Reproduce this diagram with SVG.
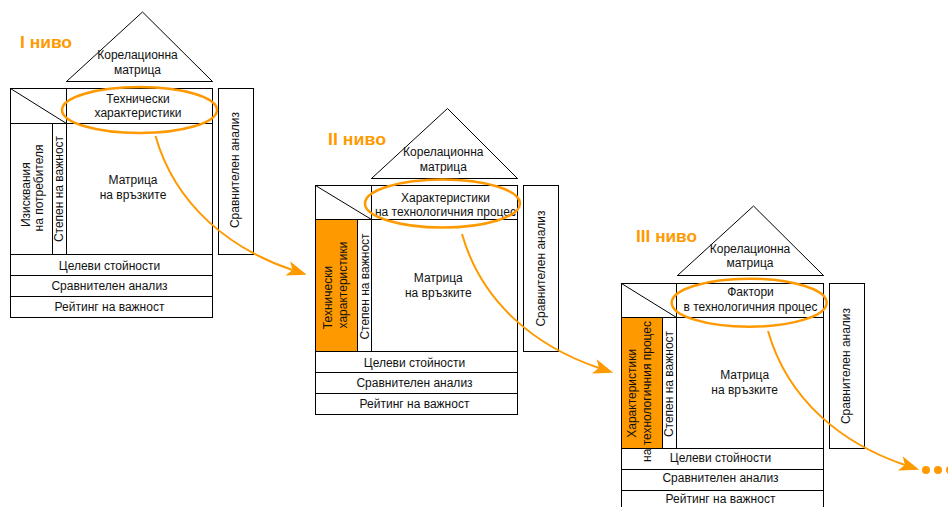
<svg xmlns="http://www.w3.org/2000/svg" width="948" height="507" viewBox="0 0 948 507">
  <style>
    .box { fill: #fff; stroke: #000; stroke-width: 1; }
    .ln { fill: none; stroke: #000; stroke-width: 1; }
    .fill { fill: #FF9900; stroke: #000; stroke-width: 1; }
    .t { font-family: "Liberation Sans", Arial, sans-serif; font-size: 12px; fill: #111; text-anchor: middle; }
    .lvl { font-family: "Liberation Sans", Arial, sans-serif; font-size: 17px; font-weight: bold; fill: #FF9900; }
    .hl { fill: none; stroke: #FF9900; stroke-width: 2.5; }
    .conn { fill: none; stroke: #FF9900; stroke-width: 2; marker-end: url(#arrow); }
  </style>
  <defs>
    <marker id="arrow" markerUnits="userSpaceOnUse" orient="auto" refX="0" refY="0" markerWidth="30" markerHeight="30" viewBox="-10 -15 30 30" overflow="visible">
      <path d="M15,0 L-5,-7.5 L0,0 L-5,7.5 Z" fill="#FF9900"/>
    </marker>
  </defs>
  <rect width="948" height="507" fill="#fff"/>

  <!-- Level 1 house -->
  <g id="house1" transform="translate(10,88)">
    <polygon class="ln" points="56.5,-6.5 132.5,-76 202.5,-6.5"/>
    <line class="ln" x1="56.5" y1="-6.5" x2="202.5" y2="-6.5"/>
    <rect class="box" x="0.5" y="0.5" width="202" height="166"/>
    <line class="ln" x1="0.5" y1="35.5" x2="202.5" y2="35.5"/>
    <line class="ln" x1="42.5" y1="35.5" x2="42.5" y2="166.5"/>
    <line class="ln" x1="56.5" y1="0.5" x2="56.5" y2="166.5"/>
    <line class="ln" x1="0.5" y1="0.5" x2="56.5" y2="35.5"/>
    <rect class="box" x="0.5" y="166.5" width="202" height="21"/>
    <rect class="box" x="0.5" y="187.5" width="202" height="21"/>
    <rect class="box" x="0.5" y="208.5" width="202" height="21"/>
    <rect class="box" x="208.5" y="0.5" width="35" height="166"/>
    <text class="t" x="127.5" y="-29">Корелационна</text>
    <text class="t" x="127.5" y="-14">матрица</text>
    <text class="t" x="128" y="15">Технически</text>
    <text class="t" x="128" y="28.7">характеристики</text>
    <text class="t" x="123" y="96">Матрица</text>
    <text class="t" x="123" y="111">на връзките</text>
    <text class="t" transform="translate(19.8,106.7) rotate(-90)">Изисквания</text>
    <text class="t" transform="translate(33,100) rotate(-90)">на потребителя</text>
    <text class="t" transform="translate(53.3,101) rotate(-90)">Степен на важност</text>
    <text class="t" transform="translate(229,82) rotate(-90)">Сравнителен анализ</text>
    <text class="t" x="99.5" y="181.5">Целеви стойности</text>
    <text class="t" x="99.5" y="202">Сравнителен анализ</text>
    <text class="t" x="99.5" y="222.5">Рейтинг на важност</text>
    <ellipse class="hl" cx="129.5" cy="22" rx="77.5" ry="23"/>
  </g>
  <text id="level1" class="lvl" x="20" y="48.3" textLength="52" lengthAdjust="spacingAndGlyphs">I ниво</text>

  <!-- Level 2 house -->
  <g id="house2" transform="translate(315,185)">
    <polygon class="ln" points="56.5,-6.5 132.5,-76.5 202.5,-6.5"/>
    <line class="ln" x1="56.5" y1="-6.5" x2="202.5" y2="-6.5"/>
    <rect class="box" x="0.5" y="0.5" width="202" height="166"/>
    <rect class="fill" x="0.5" y="34.5" width="42" height="132"/>
    <line class="ln" x1="0.5" y1="34.5" x2="202.5" y2="34.5"/>
    <line class="ln" x1="56.5" y1="0.5" x2="56.5" y2="166.5"/>
    <line class="ln" x1="0.5" y1="0.5" x2="56.5" y2="34.5"/>
    <rect class="box" x="0.5" y="166.5" width="202" height="21"/>
    <rect class="box" x="0.5" y="187.5" width="202" height="21"/>
    <rect class="box" x="0.5" y="208.5" width="202" height="21"/>
    <rect class="box" x="208.5" y="0.5" width="35" height="166"/>
    <text class="t" x="128.3" y="-29.3">Корелационна</text>
    <text class="t" x="128.3" y="-14.3">матрица</text>
    <text class="t" x="130.5" y="17.3">Характеристики</text>
    <text class="t" x="130.5" y="30.7">на технологичния процес</text>
    <text class="t" x="123.3" y="97.3">Матрица</text>
    <text class="t" x="123.3" y="111.7">на връзките</text>
    <text class="t" transform="translate(17.3,112.5) rotate(-90)">Технически</text>
    <text class="t" transform="translate(32.3,100) rotate(-90)">характеристики</text>
    <text class="t" transform="translate(54,101.5) rotate(-90)">Степен на важност</text>
    <text class="t" transform="translate(229.7,83.5) rotate(-90)">Сравнителен анализ</text>
    <text class="t" x="99.5" y="181.5">Целеви стойности</text>
    <text class="t" x="99.5" y="202">Сравнителен анализ</text>
    <text class="t" x="99.5" y="222.5">Рейтинг на важност</text>
    <ellipse class="hl" cx="127.5" cy="18.5" rx="77.5" ry="24"/>
  </g>
  <text id="level2" class="lvl" x="328" y="145" textLength="58" lengthAdjust="spacingAndGlyphs">II ниво</text>

  <!-- Level 3 house -->
  <g id="house3" transform="translate(621,283)">
    <polygon class="ln" points="56.5,-7.5 132.5,-77 202.5,-7.5"/>
    <line class="ln" x1="56.5" y1="-7.5" x2="202.5" y2="-7.5"/>
    <rect class="box" x="0.5" y="0.5" width="202" height="165"/>
    <rect class="fill" x="0.5" y="34.5" width="41" height="131"/>
    <line class="ln" x1="0.5" y1="34.5" x2="202.5" y2="34.5"/>
    <line class="ln" x1="55.5" y1="0.5" x2="55.5" y2="165.5"/>
    <line class="ln" x1="0.5" y1="0.5" x2="55.5" y2="34.5"/>
    <rect class="box" x="0.5" y="165.5" width="202" height="21"/>
    <rect class="box" x="0.5" y="186.5" width="202" height="21"/>
    <rect class="box" x="0.5" y="207.5" width="202" height="21"/>
    <rect class="box" x="208.5" y="0.5" width="35" height="165"/>
    <text class="t" x="129" y="-29.7">Корелационна</text>
    <text class="t" x="129" y="-15.7">матрица</text>
    <text class="t" x="129.5" y="12.7">Фактори</text>
    <text class="t" x="129.5" y="27.7">в технологичния процес</text>
    <text class="t" x="123.7" y="96">Матрица</text>
    <text class="t" x="123.7" y="111">на връзките</text>
    <text class="t" transform="translate(14.7,110.3) rotate(-90)">Характеристики</text>
    <text class="t" transform="translate(29.7,108.5) rotate(-90)">на технологичния процес</text>
    <text class="t" transform="translate(52,101) rotate(-90)">Степен на важност</text>
    <text class="t" transform="translate(229,83) rotate(-90)">Сравнителен анализ</text>
    <text class="t" x="99.5" y="179.3">Целеви стойности</text>
    <text class="t" x="99.5" y="199.3">Сравнителен анализ</text>
    <text class="t" x="99.5" y="220.3">Рейтинг на важност</text>
    <ellipse class="hl" cx="128.2" cy="19.7" rx="77.5" ry="24"/>
  </g>
  <text id="level3" class="lvl" x="636" y="242" textLength="61" lengthAdjust="spacingAndGlyphs">III ниво</text>

  <!-- Curved arrows linking one level to the next -->
  <g id="connectors">
    <path class="conn" d="M155.5,136 c20,70 75,113 137,134"/>
    <path class="conn" d="M462,234 c20,70 75,113 137,134"/>
    <path class="conn" d="M768,331 c20,70 75,113 137,134"/>
    <circle cx="926" cy="470" r="4" fill="#FF9900"/>
    <circle cx="938" cy="470" r="4" fill="#FF9900"/>
    <circle cx="950" cy="470" r="4" fill="#FF9900"/>
  </g>
</svg>
